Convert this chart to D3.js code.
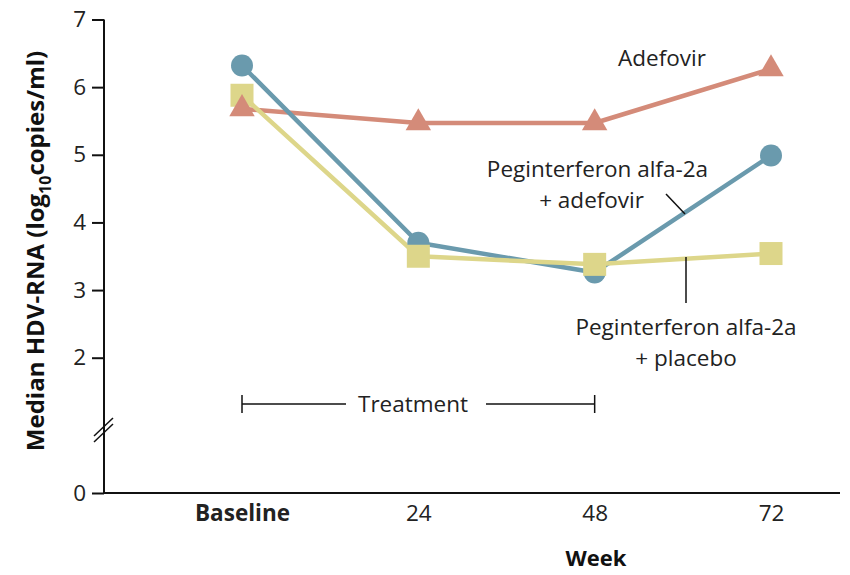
<!DOCTYPE html>
<html>
<head>
<meta charset="utf-8">
<script src="https://cdn.jsdelivr.net/npm/d3@7"></script>
<style>
  body { margin: 0; background: #fff; }
  svg { display: block; font-family: "Open Sans", "DejaVu Sans", sans-serif; }
</style>
</head>
<body>
<svg id="chart" width="850" height="575"></svg>
<script>
// ---- data ----
const weeks = [0, 24, 48, 72];
const weekLabels = ["Baseline", "24", "48", "72"];
const yTicks = [0, 2, 3, 4, 5, 6, 7];
const pegAdefovir = [6.32, 3.70, 3.26, 4.99];
const pegPlacebo = [5.88, 3.50, 3.38, 3.54];
const adefovir = [5.68, 5.47, 5.47, 6.27];
const seriesNames = ["Adefovir", "Peginterferon alfa-2a + adefovir", "Peginterferon alfa-2a + placebo"];
const treatmentRange = [0, 48];

const svg = d3.select("#chart");
const x = d3.scaleLinear().domain([0, 72]).range([242, 771]);
const y = d3.scaleLinear().domain([0, 7]).range([493, 19.5]);

const colors = { blue: "#6a9aad", yellow: "#ddd68a", red: "#d48b79" };
const FS = 22.5;

// axes
const axisX0 = 104;
svg.append("line").attr("x1", axisX0).attr("x2", axisX0).attr("y1", y(7)).attr("y2", y(0) + 1)
  .attr("stroke", "#111").attr("stroke-width", 2);
svg.append("line").attr("x1", axisX0 - 1).attr("x2", 840).attr("y1", y(0)).attr("y2", y(0))
  .attr("stroke", "#111").attr("stroke-width", 2);

const yAxis = d3.axisLeft(y).tickValues(yTicks).tickSize(12).tickPadding(6).tickFormat(d3.format("d"));
const gy = svg.append("g").attr("transform", `translate(${axisX0},0)`).call(yAxis);
gy.select(".domain").remove();
gy.selectAll(".tick line").attr("stroke", "#111").attr("stroke-width", 2);
gy.selectAll(".tick text").attr("font-size", FS).attr("fill", "#222")
  .attr("font-family", "'Open Sans', sans-serif");

// axis break
[0, 6].forEach(off => {
  svg.append("line").attr("x1", 94).attr("x2", 113)
    .attr("y1", 442 - off).attr("y2", 424 - off)
    .attr("stroke", "#111").attr("stroke-width", 1.5);
});

// x labels
const xAxis = d3.axisBottom(x).tickValues(weeks).tickSize(0).tickPadding(12)
  .tickFormat((d, i) => weekLabels[i]);
const gx = svg.append("g").attr("transform", `translate(0,${y(0)})`).call(xAxis);
gx.select(".domain").remove();
gx.selectAll(".tick text").attr("font-size", FS).attr("fill", "#222")
  .attr("font-family", "'Open Sans', sans-serif")
  .attr("font-weight", (d, i) => i === 0 ? "bold" : "normal");

// axis titles
svg.append("text").attr("x", 596).attr("y", 566).attr("text-anchor", "middle")
  .attr("font-size", 22).attr("font-weight", "bold").attr("fill", "#111").text("Week");
const yt = svg.append("text").attr("transform", `translate(44,${(40 + 462) / 2}) rotate(-90)`)
  .attr("text-anchor", "middle").attr("font-size", 24).attr("font-weight", "bold").attr("fill", "#111");
yt.append("tspan").text("Median HDV-RNA (log");
yt.append("tspan").attr("font-size", 16).attr("dy", 7).text("10");
yt.append("tspan").attr("dy", -7).text("copies/ml)");

// treatment bracket
const by = 404;
svg.append("line").attr("x1", x(treatmentRange[0])).attr("x2", x(treatmentRange[0])).attr("y1", by - 9).attr("y2", by + 9).attr("stroke", "#111").attr("stroke-width", 1.5);
svg.append("line").attr("x1", x(treatmentRange[1])).attr("x2", x(treatmentRange[1])).attr("y1", by - 9).attr("y2", by + 9).attr("stroke", "#111").attr("stroke-width", 1.5);
svg.append("line").attr("x1", x(treatmentRange[0])).attr("x2", 346).attr("y1", by).attr("y2", by).attr("stroke", "#111").attr("stroke-width", 1.5);
svg.append("line").attr("x1", 486).attr("x2", x(treatmentRange[1])).attr("y1", by).attr("y2", by).attr("stroke", "#111").attr("stroke-width", 1.5);
svg.append("text").attr("x", 413).attr("y", by + 8).attr("text-anchor", "middle")
  .attr("font-size", FS).attr("fill", "#222").text("Treatment");

// lines
const line = d3.line().x((d, i) => x(weeks[i])).y(d => y(d));
function drawLine(vals, col) {
  svg.append("path").datum(vals).attr("d", line).attr("fill", "none")
    .attr("stroke", col).attr("stroke-width", 4.5).attr("stroke-linejoin", "round");
}
drawLine(adefovir, colors.red);
drawLine(pegAdefovir, colors.blue);
drawLine(pegPlacebo, colors.yellow);

// markers
svg.append("g").selectAll("circle").data(pegAdefovir).join("circle")
  .attr("cx", (d, i) => x(weeks[i])).attr("cy", d => y(d)).attr("r", 11).attr("fill", colors.blue);
svg.append("g").selectAll("rect").data(pegPlacebo).join("rect")
  .attr("x", (d, i) => x(weeks[i]) - 11.5).attr("y", d => y(d) - 11.5)
  .attr("width", 23).attr("height", 23).attr("fill", colors.yellow);
const tri = d3.symbol().type(d3.symbolTriangle).size(280);
svg.append("g").selectAll("path").data(adefovir).join("path")
  .attr("d", tri).attr("transform", (d, i) => `translate(${x(weeks[i])},${y(d)})`)
  .attr("fill", colors.red);

// series labels
svg.append("text").attr("x", 662).attr("y", 66).attr("text-anchor", "middle")
  .attr("font-size", FS).attr("fill", "#222").text(seriesNames[0]);
svg.append("text").attr("x", 708).attr("y", 177).attr("text-anchor", "end")
  .attr("font-size", FS).attr("fill", "#222").text("Peginterferon alfa-2a");
svg.append("text").attr("x", 644).attr("y", 208).attr("text-anchor", "end")
  .attr("font-size", FS).attr("fill", "#222").text("+ adefovir");
svg.append("line").attr("x1", 666).attr("y1", 194).attr("x2", 685).attr("y2", 214)
  .attr("stroke", "#111").attr("stroke-width", 1.5);
svg.append("text").attr("x", 686).attr("y", 335).attr("text-anchor", "middle")
  .attr("font-size", FS).attr("fill", "#222").text("Peginterferon alfa-2a");
svg.append("text").attr("x", 686).attr("y", 366).attr("text-anchor", "middle")
  .attr("font-size", FS).attr("fill", "#222").text("+ placebo");
svg.append("line").attr("x1", 686).attr("y1", 257).attr("x2", 686).attr("y2", 303)
  .attr("stroke", "#111").attr("stroke-width", 1.5);
</script>
</body>
</html>
